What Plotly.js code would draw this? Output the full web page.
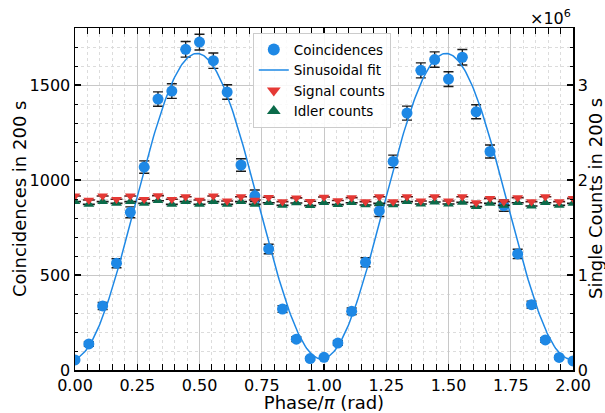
<!DOCTYPE html>
<html>
<head>
<meta charset="utf-8">
<script src="https://cdn.plot.ly/plotly-3.0.1.min.js"></script>
<style>html,body{margin:0;padding:0;background:#fff;}#chart{width:605px;height:413px;}</style>
</head>
<body>
<div id="chart"></div>
<script>
// Phase / pi (rad): 37 measurement settings, step 1/18
const phase = [0.0000,0.0556,0.1111,0.1667,0.2222,0.2778,0.3333,0.3889,0.4444,0.5000,
  0.5556,0.6111,0.6667,0.7222,0.7778,0.8333,0.8889,0.9444,1.0000,1.0556,
  1.1111,1.1667,1.2222,1.2778,1.3333,1.3889,1.4444,1.5000,1.5556,1.6111,
  1.6667,1.7222,1.7778,1.8333,1.8889,1.9444,2.0000];

const coincidences = [53,137,337,562,830,1068,1426,1468,1688,1726,
  1628,1463,1079,917,637,321,162,60,67,142,
  309,567,837,1098,1352,1577,1634,1531,1646,1359,
  1150,865,611,344,158,66,48];

const coincErr = [7.3,11.7,18.4,23.7,28.8,32.7,37.8,38.3,41.1,41.5,
  40.3,38.2,32.8,30.3,25.2,17.9,12.7,7.7,8.2,11.9,
  17.6,23.8,28.9,33.1,36.8,39.7,40.4,39.1,40.6,36.9,
  33.9,29.4,24.7,18.5,12.6,8.1,6.9];

const signalCounts = [1.832e6,1.789e6,1.832e6,1.797e6,1.832e6,1.797e6,1.835e6,1.797e6,1.824e6,1.789e6,
  1.832e6,1.779e6,1.824e6,1.789e6,1.818e6,1.772e6,1.812e6,1.776e6,1.821e6,1.784e6,
  1.814e6,1.772e6,1.824e6,1.772e6,1.824e6,1.779e6,1.824e6,1.779e6,1.824e6,1.761e6,
  1.807e6,1.772e6,1.814e6,1.772e6,1.824e6,1.772e6,1.807e6];

const idlerCounts = [1.772e6,1.744e6,1.772e6,1.754e6,1.772e6,1.754e6,1.782e6,1.744e6,1.772e6,1.744e6,
  1.772e6,1.744e6,1.772e6,1.744e6,1.761e6,1.733e6,1.758e6,1.730e6,1.761e6,1.740e6,
  1.761e6,1.737e6,1.754e6,1.737e6,1.772e6,1.747e6,1.768e6,1.747e6,1.765e6,1.719e6,
  1.754e6,1.733e6,1.761e6,1.726e6,1.761e6,1.733e6,1.754e6];

const singlesErr = [1340,1340,1340,1340,1340,1340,1340,1340,1340,1340,
  1340,1340,1340,1340,1340,1340,1340,1340,1340,1340,
  1340,1340,1340,1340,1340,1340,1340,1340,1340,1340,
  1340,1340,1340,1340,1340,1340,1340];

// Sinusoidal fit parameters
const fitOffset = 862;
const fitAmplitude = 804;
const fitPeak = 0.49;     // phase/pi of the maximum
const fitPeriod = 1.0;    // in units of phase/pi
const fitX = [];
const fitY = [];
for (let k = 0; k <= 400; k++) {
  const x = 2 * k / 400;
  fitX.push(x);
  fitY.push(fitOffset + fitAmplitude * Math.cos(2 * Math.PI * (x - fitPeak) / fitPeriod));
}

const xTicks = [0, 0.25, 0.5, 0.75, 1.0, 1.25, 1.5, 1.75, 2.0];
const xTickText = ['0.00','0.25','0.50','0.75','1.00','1.25','1.50','1.75','2.00'];
const yTicks = [0, 500, 1000, 1500];
const y2Ticks = [0, 1e6, 2e6, 3e6];
const y2TickText = ['0','1','2','3'];

const BLUE = '#1E88E5', RED = '#E53935', GREEN = '#0B6B4A';
const FONT = 'DejaVu Sans, sans-serif';

const traces = [
  {
    x: phase, y: coincidences, type: 'scatter', mode: 'markers', name: 'Coincidences',
    marker: {color: BLUE, size: 11},
    error_y: {type: 'data', array: coincErr, visible: true, color: '#1a1a1a', thickness: 1.4, width: 5},
    showlegend: false
  },
  {
    x: fitX, y: fitY, type: 'scatter', mode: 'lines', name: 'Sinusoidal fit',
    line: {color: BLUE, width: 1.5}, showlegend: false
  },
  {
    x: phase, y: idlerCounts, yaxis: 'y2', type: 'scatter', mode: 'markers', name: 'Idler counts',
    marker: {color: GREEN, size: 9.5, symbol: 'triangle-up'},
    error_y: {type: 'data', array: singlesErr, visible: true, color: '#1a1a1a', thickness: 1.4, width: 6},
    showlegend: false
  },
  {
    x: phase, y: signalCounts, yaxis: 'y2', type: 'scatter', mode: 'markers', name: 'Signal counts',
    marker: {color: RED, size: 9.5, symbol: 'triangle-down'},
    error_y: {type: 'data', array: singlesErr, visible: true, color: '#5a1a1a', thickness: 1.4, width: 6},
    showlegend: false
  },
  // legend entries (no data drawn)
  {x: [null], y: [null], type: 'scatter', mode: 'markers', name: 'Coincidences',
   marker: {color: BLUE, size: 12}, legendrank: 1},
  {x: [null], y: [null], type: 'scatter', mode: 'lines', name: 'Sinusoidal fit',
   line: {color: BLUE, width: 1.5}, legendrank: 2},
  {x: [null], y: [null], type: 'scatter', mode: 'markers', name: 'Signal counts',
   marker: {color: RED, size: 12, symbol: 'triangle-down'}, legendrank: 3},
  {x: [null], y: [null], type: 'scatter', mode: 'markers', name: 'Idler counts',
   marker: {color: GREEN, size: 12, symbol: 'triangle-up'}, legendrank: 4}
];

const layout = {
  width: 605, height: 413,
  margin: {l: 75, r: 32, t: 28, b: 43, pad: 0},
  paper_bgcolor: '#fff', plot_bgcolor: '#fff',
  font: {family: FONT, size: 16, color: '#000'},
  showlegend: true,
  legend: {
    x: 0.357, y: 0.985, xanchor: 'left', yanchor: 'top',
    bgcolor: 'rgba(255,255,255,0.85)', bordercolor: '#cccccc', borderwidth: 1,
    font: {family: FONT, size: 13.5, color: '#000'},
    tracegroupgap: 0
  },
  xaxis: {
    range: [0, 2], tickvals: xTicks, ticktext: xTickText,
    ticks: 'inside', ticklen: 6, tickwidth: 1.2, tickcolor: '#000',
    showline: true, linecolor: '#000', linewidth: 1.5, mirror: 'allticks',
    showgrid: true, gridcolor: '#c8c8c8', gridwidth: 1, zeroline: false,
    tickfont: {family: FONT, size: 16},
    minor: {dtick: 0.05, ticks: 'inside', ticklen: 3, tickwidth: 1, tickcolor: '#000',
            showgrid: true, gridcolor: '#dcdcdc', gridwidth: 1, griddash: 'dot'},
    title: {text: 'Phase/<i>π</i> (rad)', font: {family: FONT, size: 18}, standoff: 2},
    automargin: false
  },
  yaxis: {
    range: [0, 1800], tickvals: yTicks,
    ticks: 'inside', ticklen: 6, tickwidth: 1.2, tickcolor: '#000',
    showline: true, linecolor: '#000', linewidth: 1.5, mirror: true,
    showgrid: true, gridcolor: '#c8c8c8', gridwidth: 1, zeroline: false,
    tickfont: {family: FONT, size: 16},
    minor: {dtick: 100, ticks: 'inside', ticklen: 3, tickwidth: 1, tickcolor: '#000',
            showgrid: true, gridcolor: '#dcdcdc', gridwidth: 1, griddash: 'dot'},
    automargin: false
  },
  yaxis2: {
    overlaying: 'y', side: 'right',
    range: [0, 3.6e6], tickvals: y2Ticks, ticktext: y2TickText,
    ticks: 'inside', ticklen: 6, tickwidth: 1.2, tickcolor: '#000',
    showline: true, linecolor: '#000', linewidth: 1.5,
    showgrid: false, zeroline: false,
    tickfont: {family: FONT, size: 16},
    minor: {dtick: 2e5, ticks: 'inside', ticklen: 3, tickwidth: 1, tickcolor: '#000', showgrid: false},
    automargin: false
  },
  annotations: [
    {text: '×10<sup>6</sup>', xref: 'paper', yref: 'paper', x: 1.0, y: 1.0,
     xanchor: 'right', yanchor: 'bottom', showarrow: false, yshift: -2,
     font: {family: FONT, size: 16, color: '#000'}},
    {text: 'Coincidences in 200 s', xref: 'paper', yref: 'paper', x: -0.1124, y: 0.5,
     xanchor: 'center', yanchor: 'middle', textangle: -90, showarrow: false, borderpad: 0,
     font: {family: FONT, size: 18, color: '#000'}},
    {text: 'Single Counts in 200 s', xref: 'paper', yref: 'paper', x: 1.0442, y: 0.5,
     xanchor: 'center', yanchor: 'middle', textangle: -90, showarrow: false, borderpad: 0,
     font: {family: FONT, size: 18, color: '#000'}}
  ]
};

Plotly.newPlot('chart', traces, layout, {displayModeBar: false, staticPlot: true});
</script>
</body>
</html>
